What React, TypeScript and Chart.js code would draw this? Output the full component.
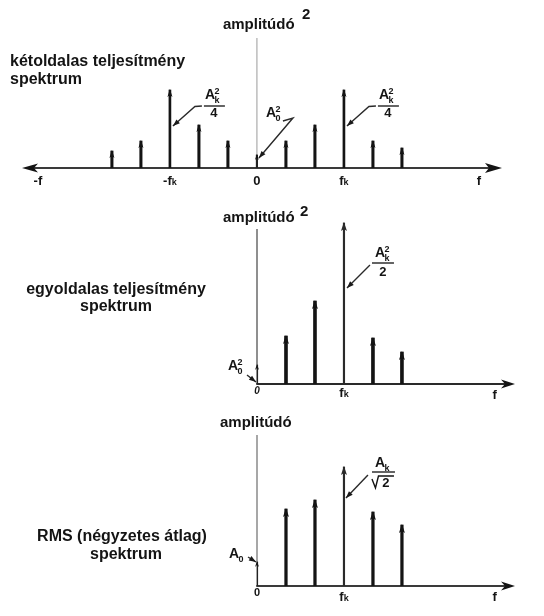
import React, { useEffect, useRef } from "react";
import { Chart, registerables } from "chart.js";

Chart.register(...registerables);

// ---------- data ----------
const twoSidedFreq = [-5, -4, -3, -2, -1, 0, 1, 2, 3, 4, 5];
const twoSidedPower = [17, 27, 78, 43, 27, 13, 27, 43, 78, 27, 20];
const oneSidedFreq = [0, 1, 2, 3, 4, 5];
const oneSidedPower = [19, 48, 83, 161, 46, 32];
const rmsFreq = [0, 1, 2, 3, 4, 5];
const rmsAmp = [24, 77, 86, 119, 74, 61];
const FK = 3;

const twoSidedTickLabels = ["-f", "-fk", "0", "fk", "f"];
const twoSidedTickValues = [-7.55, -3, 0, 3, 7.65];
const oneSidedTickLabels = ["0", "fk", "f"];
const oneSidedTickValues = [0, 3, 8.2];

const twoSidedTitle = ["kétoldalas teljesítmény", "spektrum"];
const oneSidedTitle = ["egyoldalas teljesítmény", "spektrum"];
const rmsTitle = ["RMS (négyzetes átlag)", "spektrum"];
const axisLabel = "amplitúdó";

const FONT = "'Liberation Sans', Arial, sans-serif";
const INK = "#141414";
const TITLE_FONT = `bold 16px ${FONT}`;

// ---------- drawing helpers ----------
function arrowUp(ctx: CanvasRenderingContext2D, x: number, tip: number, w: number, len: number, color = INK) {
  ctx.save();
  ctx.fillStyle = color;
  ctx.beginPath();
  ctx.moveTo(x, tip);
  ctx.lineTo(x - w / 2, tip + len);
  ctx.lineTo(x, tip + len - 2);
  ctx.lineTo(x + w / 2, tip + len);
  ctx.closePath();
  ctx.fill();
  ctx.restore();
}

function arrowH(ctx: CanvasRenderingContext2D, tipX: number, y: number, dir: number, len: number, half: number) {
  ctx.save();
  ctx.fillStyle = INK;
  ctx.beginPath();
  ctx.moveTo(tipX, y);
  ctx.lineTo(tipX - dir * len, y - half);
  ctx.lineTo(tipX - dir * (len - 4), y);
  ctx.lineTo(tipX - dir * len, y + half);
  ctx.closePath();
  ctx.fill();
  ctx.restore();
}

function leader(ctx: CanvasRenderingContext2D, pts: number[][]) {
  ctx.save();
  ctx.strokeStyle = "#2a2a2a";
  ctx.fillStyle = "#1a1a1a";
  ctx.lineWidth = 1.4;
  ctx.beginPath();
  ctx.moveTo(pts[0][0], pts[0][1]);
  for (let i = 1; i < pts.length; i++) ctx.lineTo(pts[i][0], pts[i][1]);
  ctx.stroke();
  const [x1, y1] = pts[pts.length - 2];
  const [x2, y2] = pts[pts.length - 1];
  const a = Math.atan2(y2 - y1, x2 - x1);
  ctx.translate(x2, y2);
  ctx.rotate(a);
  ctx.beginPath();
  ctx.moveTo(0, 0);
  ctx.lineTo(-7, -2.6);
  ctx.lineTo(-7, 2.6);
  ctx.closePath();
  ctx.fill();
  ctx.restore();
}

function drawA(ctx: CanvasRenderingContext2D, left: number, base: number, sup: string, sub: string) {
  ctx.save();
  ctx.fillStyle = INK;
  ctx.textAlign = "left";
  ctx.textBaseline = "alphabetic";
  ctx.font = `bold 14px ${FONT}`;
  ctx.fillText("A", left, base);
  const w = ctx.measureText("A").width;
  ctx.font = `bold 9px ${FONT}`;
  if (sup) ctx.fillText(sup, left + w - 0.5, base - 5);
  if (sub) ctx.fillText(sub, left + w - 0.5, base + 4);
  ctx.restore();
}

function hline(ctx: CanvasRenderingContext2D, x1: number, x2: number, y: number, w = 1.4, c = "#222") {
  ctx.save();
  ctx.strokeStyle = c;
  ctx.lineWidth = w;
  ctx.beginPath();
  ctx.moveTo(x1, y);
  ctx.lineTo(x2, y);
  ctx.stroke();
  ctx.restore();
}

function text(ctx: CanvasRenderingContext2D, s: string, x: number, y: number, font: string, align: CanvasTextAlign = "left") {
  ctx.save();
  ctx.fillStyle = INK;
  ctx.font = font;
  ctx.textAlign = align;
  ctx.textBaseline = "middle";
  ctx.fillText(s, x, y);
  ctx.restore();
}

function tickLabel(ctx: CanvasRenderingContext2D, s: string, x: number, y: number, size = 13, italic = false) {
  ctx.save();
  ctx.fillStyle = INK;
  ctx.textBaseline = "middle";
  ctx.textAlign = "left";
  const main = `${italic ? "italic " : ""}bold ${size}px ${FONT}`;
  const small = `bold ${size - 4}px ${FONT}`;
  if (s.endsWith("k")) {
    const head = s.slice(0, -1);
    ctx.font = main;
    const w1 = ctx.measureText(head).width;
    ctx.font = small;
    const w2 = ctx.measureText("k").width;
    const start = x - (w1 + w2) / 2;
    ctx.font = main;
    ctx.fillText(head, start, y);
    ctx.font = small;
    ctx.fillText("k", start + w1, y + 2);
  } else {
    ctx.font = main;
    const w = ctx.measureText(s).width;
    ctx.fillText(s, x - w / 2, y);
  }
  ctx.restore();
}

function vline(ctx: CanvasRenderingContext2D, x: number, y1: number, y2: number, w: number, c: string) {
  ctx.save();
  ctx.strokeStyle = c;
  ctx.lineWidth = w;
  ctx.beginPath();
  ctx.moveTo(x, y1);
  ctx.lineTo(x, y2);
  ctx.stroke();
  ctx.restore();
}

// ---------- panel ----------
type PanelCfg = {
  top: number;
  height: number;
  padding: { left: number; right: number; top: number; bottom: number };
  xMin: number;
  xMax: number;
  yMax: number;
  freqs: number[];
  values: number[];
  stemW: number;
  fkW: number;
  fkColor: string;
  head: { w: number; len: number };
  before: (c: any) => void;
  after: (c: any) => void;
};

function Panel({ cfg }: { cfg: PanelCfg }) {
  const ref = useRef<HTMLCanvasElement>(null);
  useEffect(() => {
    const canvas = ref.current!;
    const pts = cfg.freqs.map((f, i) => ({ x: f, y: cfg.values[i] }));
    const regular = pts.filter((p) => p.x !== 0 && Math.abs(p.x) !== FK);
    const fk = pts.filter((p) => Math.abs(p.x) === FK);
    const dc = pts.filter((p) => p.x === 0);
    const chart = new Chart(canvas, {
      type: "bar",
      data: {
        datasets: [
          { label: "stems", data: regular, barThickness: cfg.stemW, backgroundColor: INK, grouped: false } as any,
          { label: "fk", data: fk, barThickness: cfg.fkW, backgroundColor: cfg.fkColor, grouped: false } as any,
          { label: "dc", data: dc, barThickness: 1.5, backgroundColor: "#222", grouped: false } as any,
        ],
      },
      options: {
        animation: false,
        responsive: false,
        devicePixelRatio: 1,
        events: [],
        layout: { padding: cfg.padding },
        scales: {
          x: { type: "linear", min: cfg.xMin, max: cfg.xMax, display: false, offset: false },
          y: { type: "linear", min: 0, max: cfg.yMax, display: false },
        },
        plugins: { legend: { display: false }, tooltip: { enabled: false } },
      },
      plugins: [
        {
          id: "deco",
          beforeDatasetsDraw(c: any) {
            cfg.before(c);
          },
          afterDatasetsDraw(c: any) {
            const ctx = c.ctx as CanvasRenderingContext2D;
            c.data.datasets.forEach((_: any, di: number) => {
              const meta = c.getDatasetMeta(di);
              meta.data.forEach((el: any) => {
                const small = di === 2;
                arrowUp(ctx, el.x, el.y - 1, small ? 4 : cfg.head.w, small ? 6 : cfg.head.len, di === 1 ? cfg.fkColor : INK);
              });
            });
            cfg.after(c);
          },
        },
      ],
    });
    return () => chart.destroy();
  }, []);
  return (
    <canvas
      ref={ref}
      width={544}
      height={cfg.height}
      style={{ position: "absolute", left: 0, top: cfg.top, width: 544, height: cfg.height, display: "block" }}
    />
  );
}

// ---------- panel configs ----------
const panel1: PanelCfg = {
  top: 0,
  height: 200,
  padding: { left: 22, right: 42, top: 18, bottom: 32 },
  xMin: -8.1,
  xMax: 8.45,
  yMax: 150,
  freqs: twoSidedFreq,
  values: twoSidedPower,
  stemW: 2.4,
  fkW: 2,
  fkColor: INK,
  head: { w: 5, len: 8 },
  before(c) {
    const ctx = c.ctx as CanvasRenderingContext2D;
    const xs = c.scales.x, ys = c.scales.y;
    const y0 = ys.getPixelForValue(0);
    const x0 = xs.getPixelForValue(0);
    vline(ctx, x0, ys.getPixelForValue(130), y0, 1, "#9a9a9a");
    hline(ctx, c.chartArea.left + 8, c.chartArea.right - 8, y0, 2, "#3a3a3a");
    arrowH(ctx, c.chartArea.left, y0, -1, 16, 4.5);
    arrowH(ctx, c.chartArea.right, y0, 1, 17, 5);
  },
  after(c) {
    const ctx = c.ctx as CanvasRenderingContext2D;
    const xs = c.scales.x, ys = c.scales.y;
    const y0 = ys.getPixelForValue(0);
    const x0 = xs.getPixelForValue(0);
    text(ctx, twoSidedTitle[0], 10, 62, TITLE_FONT);
    text(ctx, twoSidedTitle[1], 10, 80, TITLE_FONT);
    text(ctx, axisLabel, x0 - 34, 25, `bold 15px ${FONT}`);
    text(ctx, "2", x0 + 45, 15, `bold 15px ${FONT}`);
    twoSidedTickValues.forEach((v, i) => tickLabel(ctx, twoSidedTickLabels[i], xs.getPixelForValue(v), y0 + 13));
    [-FK, FK].forEach((f) => {
      const sx = xs.getPixelForValue(f);
      const lx = sx + 35;
      const ly = y0 - 62;
      drawA(ctx, lx, ly - 7, "2", "k");
      hline(ctx, lx - 1, lx + 20, ly, 1.4, "#222");
      tickLabel(ctx, "4", lx + 9, ly + 7 + 0.5, 13);
      leader(ctx, [[lx - 3, ly], [lx - 10, ly + 0.5], [sx + 3, ly + 20]]);
    });
    drawA(ctx, x0 + 9, y0 - 51, "2", "0");
    leader(ctx, [[x0 + 26, y0 - 47], [x0 + 36, y0 - 50], [x0 + 2, y0 - 10]]);
  },
};

const panel2: PanelCfg = {
  top: 200,
  height: 210,
  padding: { left: 257, right: 29, top: 14, bottom: 26 },
  xMin: 0,
  xMax: 8.9,
  yMax: 170,
  freqs: oneSidedFreq,
  values: oneSidedPower,
  stemW: 3,
  fkW: 1.5,
  fkColor: "#2a2a2a",
  head: { w: 6, len: 9 },
  before(c) {
    const ctx = c.ctx as CanvasRenderingContext2D;
    const xs = c.scales.x, ys = c.scales.y;
    const y0 = ys.getPixelForValue(0);
    const x0 = xs.getPixelForValue(0);
    vline(ctx, x0, ys.getPixelForValue(155), y0, 1.5, "#6a6a6a");
    hline(ctx, x0 - 0.75, c.chartArea.right - 8, y0, 2, "#2a2a2a");
    arrowH(ctx, c.chartArea.right, y0, 1, 14, 4.5);
  },
  after(c) {
    const ctx = c.ctx as CanvasRenderingContext2D;
    const xs = c.scales.x, ys = c.scales.y;
    const y0 = ys.getPixelForValue(0);
    const x0 = xs.getPixelForValue(0);
    text(ctx, oneSidedTitle[0], 116, 90, TITLE_FONT, "center");
    text(ctx, oneSidedTitle[1], 116, 107, TITLE_FONT, "center");
    text(ctx, axisLabel, x0 - 34, 18, `bold 15px ${FONT}`);
    text(ctx, "2", x0 + 43, 12, `bold 15px ${FONT}`);
    oneSidedTickValues.forEach((v, i) =>
      tickLabel(ctx, oneSidedTickLabels[i], xs.getPixelForValue(v), y0 + (i === 0 ? 7 : i === 1 ? 9 : 11), i === 0 ? 10 : 13, i === 0)
    );
    const sx = xs.getPixelForValue(FK);
    const lx = sx + 28;
    const ly = y0 - 121;
    drawA(ctx, lx + 3, ly - 6, "2", "k");
    hline(ctx, lx, lx + 22, ly, 1.4, "#222");
    tickLabel(ctx, "2", lx + 11, ly + 9, 13);
    leader(ctx, [[lx - 2, ly + 2], [sx + 3, ly + 25]]);
    drawA(ctx, x0 - 29, y0 - 14, "2", "0");
    leader(ctx, [[x0 - 10, y0 - 9], [x0 - 1, y0 - 2]]);
  },
};

const panel3: PanelCfg = {
  top: 410,
  height: 206,
  padding: { left: 257, right: 29, top: 16, bottom: 30 },
  xMin: 0,
  xMax: 8.9,
  yMax: 160,
  freqs: rmsFreq,
  values: rmsAmp,
  stemW: 2.6,
  fkW: 1.5,
  fkColor: "#2a2a2a",
  head: { w: 6, len: 9 },
  before(c) {
    const ctx = c.ctx as CanvasRenderingContext2D;
    const xs = c.scales.x, ys = c.scales.y;
    const y0 = ys.getPixelForValue(0);
    const x0 = xs.getPixelForValue(0);
    vline(ctx, x0, ys.getPixelForValue(151), y0, 1.5, "#8a8a8a");
    hline(ctx, x0 - 0.75, c.chartArea.right - 8, y0, 2, "#3a3a3a");
    arrowH(ctx, c.chartArea.right, y0, 1, 14, 4.5);
  },
  after(c) {
    const ctx = c.ctx as CanvasRenderingContext2D;
    const xs = c.scales.x, ys = c.scales.y;
    const y0 = ys.getPixelForValue(0);
    const x0 = xs.getPixelForValue(0);
    text(ctx, rmsTitle[0], 122, 127, TITLE_FONT, "center");
    text(ctx, rmsTitle[1], 126, 145, TITLE_FONT, "center");
    text(ctx, axisLabel, x0 - 37, 13, `bold 15px ${FONT}`);
    oneSidedTickValues.forEach((v, i) =>
      tickLabel(ctx, oneSidedTickLabels[i], xs.getPixelForValue(v), y0 + (i === 0 ? 7 : 11), i === 0 ? 11 : 13)
    );
    const sx = xs.getPixelForValue(FK);
    const lx = sx + 28;
    const ly = y0 - 114;
    drawA(ctx, lx + 3, ly - 5, "", "k");
    hline(ctx, lx, lx + 23, ly, 1.4, "#222");
    // radical sqrt(2)
    ctx.save();
    ctx.strokeStyle = INK;
    ctx.lineWidth = 1.4;
    ctx.beginPath();
    ctx.moveTo(lx, ly + 7);
    ctx.lineTo(lx + 3.5, ly + 16);
    ctx.lineTo(lx + 6.5, ly + 4);
    ctx.lineTo(lx + 22, ly + 4);
    ctx.stroke();
    ctx.restore();
    tickLabel(ctx, "2", lx + 14, ly + 11, 13);
    leader(ctx, [[lx - 4, ly + 3], [sx + 2, ly + 26]]);
    drawA(ctx, x0 - 28, y0 - 28, "", "0");
    leader(ctx, [[x0 - 9, y0 - 29], [x0 - 1, y0 - 24]]);
  },
};

export default function App() {
  return (
    <div style={{ position: "absolute", left: 0, top: 0, width: 544, height: 616, background: "#fff", overflow: "hidden" }}>
      <Panel cfg={panel1} />
      <Panel cfg={panel2} />
      <Panel cfg={panel3} />
    </div>
  );
}
